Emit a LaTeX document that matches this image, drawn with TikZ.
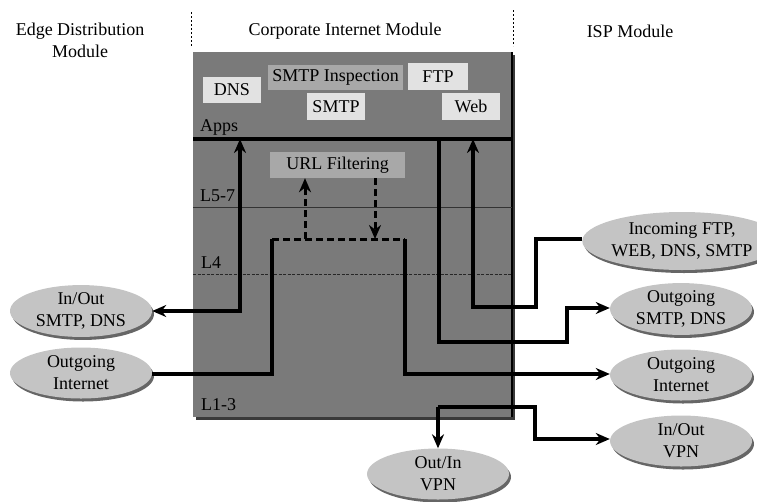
\documentclass[tikz,border=0pt]{standalone}
\usepackage{fontspec}
\setmainfont{Liberation Serif}
\usetikzlibrary{shapes.geometric,arrows.meta,shadows}
\definecolor{modgray}{HTML}{7A7A7A}
\definecolor{modedge}{HTML}{3A3A3A}
\definecolor{ellgray}{HTML}{C4C4C4}
\definecolor{ellshade}{HTML}{666666}
\definecolor{boxlight}{HTML}{E2E2E2}
\definecolor{boxmid}{HTML}{A8A8A8}
\begin{document}
\begin{tikzpicture}[x=1pt,y=-1pt,
  font=\fontsize{18}{22}\selectfont,
  lbl/.style={inner sep=0pt, align=center},
  layerlbl/.style={inner sep=0pt, anchor=west},
  svcbox/.style={inner sep=0pt, minimum height=26pt},
  cloud/.style={ellipse, fill=ellgray, inner sep=0pt, align=center,
    minimum width=142pt, minimum height=51pt,
    general shadow={fill=ellshade, shadow xshift=2pt, shadow yshift=-3pt}},
  conn/.style={line width=3.2pt, -{Stealth[length=14pt,width=12pt]}},
  biconn/.style={line width=3.2pt, {Stealth[length=14pt,width=12pt]}-{Stealth[length=14pt,width=12pt]}},
  plain/.style={line width=3.2pt},
  dashconn/.style={line width=3pt, dash pattern=on 7pt off 4pt, -{Stealth[length=14pt,width=12pt]}},
  divider/.style={line width=1pt, dash pattern=on 2pt off 2pt}
]
\useasboundingbox (0,0) rectangle (757,501);

% column headings
\node[lbl] (hEdge) at (80,40) {Edge Distribution\\Module};
\node[lbl] (hCorp) at (345,31) {Corporate Internet Module};
\node[lbl] (hISP)  at (630,31) {ISP Module};
\draw[divider] (191,12) -- (191,46);
\draw[divider] (513,10) -- (513,46);

% module body with its shadow edge
\fill[modedge] (196,55) rectangle (515,420);
\fill[modgray] (193,52) rectangle (512,417);
\draw[line width=1.8pt, black] (512,52) -- (512,417);

% layer dividers
\draw[line width=3.2pt] (193,139) -- (512,139);
\draw[line width=0.9pt, black!80] (193,207) -- (512,207);
\draw[line width=0.9pt, black!85, dash pattern=on 3pt off 1.5pt] (193,274) -- (512,274);

% layer labels
\node[layerlbl] (lApps) at (200,127) {Apps};
\node[layerlbl] (lL57)  at (200,196) {L5-7};
\node[layerlbl] (lL4)   at (201,263) {L4};
\node[layerlbl] (lL13)  at (201,405) {L1-3};

% application services
\node[svcbox, fill=boxlight, minimum width=58pt] (dns)  at (232,90)    {DNS};
\node[svcbox, fill=boxmid,   minimum width=135pt, minimum height=25pt] (smtpi) at (335.5,77.5) {SMTP Inspection};
\node[svcbox, fill=boxlight, minimum width=60pt, minimum height=27pt] (ftp)  at (438,76.5) {FTP};
\node[svcbox, fill=boxlight, minimum width=58pt, minimum height=27pt] (smtp) at (336,106.5) {SMTP};
\node[svcbox, fill=boxlight, minimum width=58pt, minimum height=27pt] (web)  at (471,106.5) {Web};
\node[svcbox, fill=boxmid,   minimum width=135pt] (url)  at (337.5,165) {URL Filtering};

% traffic sources and destinations
\node[cloud] (inoutsmtp) at (81,311)  {In/Out\\SMTP, DNS};
\node[cloud] (outintL)   at (81,373)  {Outgoing\\Internet};
\node[cloud, minimum width=164pt, minimum height=58pt] (incoming) at (682,241) {Incoming FTP,\\WEB, DNS, SMTP};
\node[cloud] (outsmtp)   at (681,309) {Outgoing\\SMTP, DNS};
\node[cloud] (outintR)   at (681,375) {Outgoing\\Internet};
\node[cloud] (vpnR)      at (681,441) {In/Out\\VPN};
\node[cloud] (vpnB)      at (438,474) {Out/In\\VPN};

% anchor points on the layer lines
\coordinate (appsDNS) at (240,139);
\coordinate (appsWeb) at (473,139);
\coordinate (appsOut) at (439,139);
\coordinate (vpnJoin) at (438,407);

% in/out SMTP and DNS to the application layer
\draw[biconn] (inoutsmtp.east |- 0,311) -- (240,311) -- (appsDNS);

% outgoing internet through the L4 loop
\draw[plain] (outintL.east |- 0,374) -- (272,374) -- (272,239);
\draw[line width=3pt, dash pattern=on 7pt off 4pt] (272,239) -- (405,239);
\draw[conn] (405,239) -- (405,374) -- (outintR.west |- 0,374);

% URL filtering detour
\draw[dashconn] (305,239) -- (url.south -| 305,0);
\draw[dashconn] (url.south -| 375,0) -- (375,239);

% incoming services up to the web application
\draw[conn] (incoming.west |- 0,239) -- (536,239) -- (536,307) -- (473,307) -- (appsWeb);

% outgoing SMTP and DNS
\draw[conn] (appsOut) -- (439,342) -- (567,342) -- (567,308) -- (outsmtp.west |- 0,308);

% VPN branches
\draw[plain] (vpnJoin) -- (535,407);
\draw[conn] (535,405.4) -- (535,439) -- (vpnR.west |- 0,439);
\draw[conn] (vpnJoin) -- (vpnB.north);
\end{tikzpicture}
\end{document}
